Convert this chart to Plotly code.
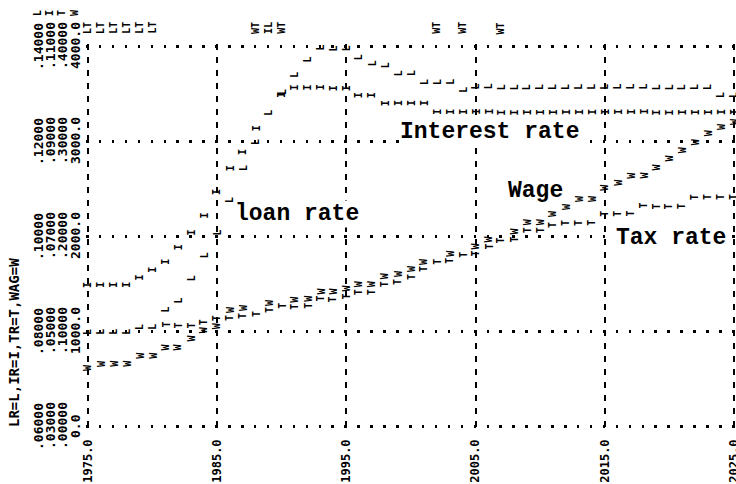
import plotly.graph_objects as go

# ---------------- data ----------------
years = list(range(1975, 2026))

loan_rate = [0.0798, 0.0798, 0.0798, 0.0798, 0.0808, 0.0808, 0.0844, 0.0865, 0.0912, 0.0960,
             0.1008, 0.1076, 0.1143, 0.1198, 0.1259, 0.1303, 0.1339, 0.1371, 0.1396, 0.1396,
             0.1396, 0.1377, 0.1364, 0.1360, 0.1343, 0.1343, 0.1324, 0.1324, 0.1324, 0.1307,
             0.1314, 0.1314, 0.1314, 0.1314, 0.1314, 0.1314, 0.1314, 0.1314, 0.1314, 0.1314,
             0.1314, 0.1314, 0.1314, 0.1314, 0.1314, 0.1314, 0.1314, 0.1314, 0.1314, 0.1297,
             0.1297]

interest_rate = [0.0597, 0.0597, 0.0597, 0.0597, 0.0612, 0.0628, 0.0645, 0.0677, 0.0708, 0.0744,
                 0.0793, 0.0843, 0.0877, 0.0927, 0.0959, 0.0997, 0.1012, 0.1012, 0.1012, 0.1012,
                 0.1012, 0.0997, 0.0997, 0.0980, 0.0980, 0.0980, 0.0980, 0.0961, 0.0961, 0.0961,
                 0.0961, 0.0961, 0.0961, 0.0961, 0.0961, 0.0961, 0.0961, 0.0961, 0.0961, 0.0961,
                 0.0961, 0.0961, 0.0961, 0.0961, 0.0961, 0.0961, 0.0961, 0.0961, 0.0961, 0.0961,
                 0.0961]

tax_rate = [0.0989, 0.0989, 0.0989, 0.0989, 0.1042, 0.1042, 0.1063, 0.1063, 0.1063, 0.1095,
            0.1137, 0.1137, 0.1158, 0.1179, 0.1221, 0.1263, 0.1253, 0.1263, 0.1337, 0.1337,
            0.1368, 0.1411, 0.1411, 0.1495, 0.1516, 0.1568, 0.1653, 0.1726, 0.1737, 0.1800,
            0.1811, 0.1884, 0.1958, 0.1968, 0.2063, 0.2063, 0.2116, 0.2137, 0.2137, 0.2137,
            0.2232, 0.2232, 0.2232, 0.2316, 0.2316, 0.2316, 0.2316, 0.2411, 0.2411, 0.2411,
            0.2411]

wage = [611, 663, 663, 663, 747, 747, 832, 832, 926, 1011,
        1053, 1221, 1242, 1179, 1305, 1263, 1337, 1347, 1421, 1421,
        1452, 1495, 1495, 1579, 1600, 1652, 1737, 1726, 1821, 1800,
        1895, 1968, 1958, 2052, 2147, 2147, 2232, 2305, 2400, 2400,
        2516, 2568, 2642, 2642, 2726, 2821, 2905, 2989, 3084, 3147,
        3200]

x_tick_vals = [1975, 1985, 1995, 2005, 2015, 2025]
x_tick_text = ["1975.0", "1985.0", "1995.0", "2005.0", "2015.0", "2025.0"]

wage_ticks = [0, 1000, 2000, 3000, 4000]
lr_tick_text = [".06000", ".08000", ".10000", ".12000", ".14000"]
ir_tick_text = [".03000", ".05000", ".07000", ".09000", ".11000"]
tr_tick_text = [".00000", ".10000", ".20000", ".30000", ".40000"]
wg_tick_text = ["0.0", "1000.0", "2000.0", "3000.0", "4000.0"]

series_symbols = ["L", "I", "T", "W"]
axis_title = "LR=L,IR=I,TR=T,WAG=W"

# printer overlap codes (several series on the same print position)
overlap_years = [1975, 1976, 1977, 1978, 1979, 1980, 1988, 1989, 1990, 2002, 2004, 2007]
overlap_codes = ["LT", "LT", "LT", "LT", "LT", "LT", "WT", "IL", "WT", "WT", "WT", "WT"]

series_labels = ["loan rate", "Interest rate", "Wage", "Tax rate"]

# ---------------- geometry / styles ----------------
W_PX, H_PX = 736, 484
BOX_L, BOX_R, BOX_T, BOX_B = 86, 736, 44, 428      # plotting box (pixels)
EDGE = 2                                          # grid edges sit 2px inside the box
BW, BH = BOX_R - BOX_L, BOX_B - BOX_T


def paper_x(px):
    return (px - BOX_L) / BW


def paper_y(py):
    return (BOX_B - py) / BH


def padded(lo, hi, inner_px):
    pad = (hi - lo) * EDGE / inner_px
    return [lo - pad, hi + pad]


MONO = "DejaVu Sans Mono"
xtick_font = dict(family=MONO, size=12, color="black", weight="bold")
ytick_font = dict(family=MONO, size=13, color="black", weight="bold")
title_font = dict(family=MONO, size=14, color="black", weight="bold")
glyph_font = dict(family=MONO, size=10, color="black", weight="bold")
label_font = dict(family="Liberation Mono", size=23, color="black", weight="bold")

fig = go.Figure()

series = [("L", loan_rate, "y2"), ("I", interest_rate, "y3"),
          ("T", tax_rate, "y4"), ("W", wage, "y")]

# invisible traces so every scale exists
for sym, vals, ax in series:
    fig.add_trace(go.Scatter(x=years, y=vals, yaxis=ax, mode="markers",
                             marker=dict(opacity=0, size=1), hoverinfo="skip",
                             showlegend=False))

ann = []

# typed labels (first, so the printed glyphs sit on top)
label_pos = {"loan rate": (1991.15, 2232), "Interest rate": (2006.1, 3095),
             "Wage": (2009.6, 2474), "Tax rate": (2020.1, 1979)}
for lab in series_labels:
    lx, ly = label_pos[lab]
    ann.append(dict(x=lx, y=ly, xref="x", yref="y", text=lab, showarrow=False,
                    font=label_font, bgcolor="white", borderpad=0,
                    xanchor="center", yanchor="middle"))

# hidden glyphs where printer overlapped (priority L > I > T > W)
priority = "LITW"
hidden = set()
for yr, code in zip(overlap_years, overlap_codes):
    loser = max(code, key=priority.index)
    hidden.add((yr, loser))

for sym, vals, ax in series:
    for yr, v in zip(years, vals):
        if (yr, sym) in hidden:
            continue
        ann.append(dict(x=yr, y=v, xref="x", yref=ax, text=sym, textangle=-90,
                        showarrow=False, font=glyph_font,
                        xanchor="center", yanchor="middle"))

# overlap codes in top margin
for yr, code in zip(overlap_years, overlap_codes):
    ann.append(dict(x=yr, y=paper_y(28), xref="x", yref="paper", text=code,
                    textangle=-90, showarrow=False, font=glyph_font,
                    xanchor="center", yanchor="middle"))

# left tick label columns
col_px = [38, 50, 62, 75]
for texts, cx in zip([lr_tick_text, ir_tick_text, tr_tick_text, wg_tick_text], col_px):
    for v, t in zip(wage_ticks, texts):
        ann.append(dict(x=paper_x(cx), xref="paper", y=v, yref="y", text=t,
                        textangle=-90, showarrow=False, font=ytick_font,
                        xanchor="center", yanchor="middle"))

# legend symbols above the columns
for sym, cx in zip(series_symbols, col_px):
    ann.append(dict(x=paper_x(cx), xref="paper", y=paper_y(13), yref="paper",
                    text=sym, textangle=-90, showarrow=False, font=glyph_font,
                    xanchor="center", yanchor="middle"))

# axis title
ann.append(dict(x=paper_x(14), xref="paper", y=paper_y(343), yref="paper",
                text=axis_title, textangle=-90, showarrow=False, font=title_font,
                xanchor="center", yanchor="middle"))

inner_w = BW - 2 * EDGE
inner_h = BH - 2 * EDGE

fig.update_layout(
    width=W_PX, height=H_PX,
    margin=dict(l=BOX_L, r=W_PX - BOX_R, t=BOX_T, b=H_PX - BOX_B, pad=0),
    paper_bgcolor="white", plot_bgcolor="white", showlegend=False,
    xaxis=dict(range=padded(1975, 2025, inner_w), tickvals=x_tick_vals,
               ticktext=x_tick_text, tickangle=-90, ticks="", showgrid=True,
               gridcolor="black", gridwidth=2, griddash="6px,7px",
               zeroline=False, showline=False, tickfont=xtick_font,
               ticklabelstandoff=8, ticklabeloverflow="allow", automargin=False),
    yaxis=dict(range=padded(0, 4000, inner_h), tickvals=wage_ticks,
               showticklabels=False, ticks="", showgrid=True, gridcolor="black",
               gridwidth=2.5, griddash="2.5px,10.42px", zeroline=False,
               showline=False, automargin=False),
    yaxis2=dict(range=padded(0.06, 0.14, inner_h), overlaying="y", visible=False),
    yaxis3=dict(range=padded(0.03, 0.11, inner_h), overlaying="y", visible=False),
    yaxis4=dict(range=padded(0.0, 0.40, inner_h), overlaying="y", visible=False),
    annotations=ann,
)

fig.write_html("out.html", config={"displayModeBar": False},
               post_script="document.body.style.margin='0';document.body.style.overflow='hidden';")
